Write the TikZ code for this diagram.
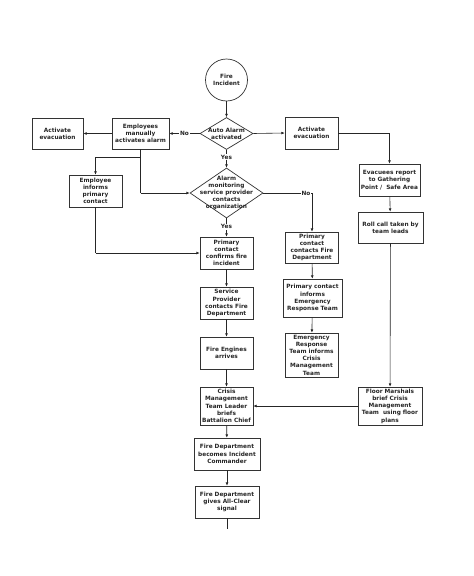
\documentclass[tikz,border=0pt]{standalone}
\usepackage{fontspec}
\setmainfont{DejaVu Sans}
\usetikzlibrary{arrows.meta,shapes.geometric}
\begin{document}
\begin{tikzpicture}[x=1pt,y=-1pt,
  txt/.style={font=\bfseries\fontsize{5.8}{7.2}\selectfont, align=center, text=black!85},
  box/.style={txt, draw=black!80, line width=0.7pt, inner sep=0.5pt, fill=white},
  dia/.style={diamond, draw=black!80, line width=0.7pt, inner sep=0pt, fill=white},
  lab/.style={txt, fill=white, inner sep=0.8pt},
  conn/.style={draw=black!85, line width=0.6pt},
  arr/.style={conn, -{Latex[length=3.2pt,width=2.8pt]}}
]
\useasboundingbox (0,0) rectangle (474,576);
\fill[white] (0,0) rectangle (474,576);

% nodes
\node[circle, draw=black!80, line width=0.7pt, minimum size=42pt, inner sep=0pt, txt] (fire) at (226.5,80) {Fire\\Incident};
\node[dia, minimum width=53pt, minimum height=32pt] (d1) at (226.5,133.5) {};
\node[txt] (d1t) at (226.5,133.5) {Auto Alarm\\activated};
\node[dia, minimum width=73pt, minimum height=50pt] (d2) at (226.5,193) {};
\node[txt] (d2t) at (226.5,193) {Alarm\\monitoring\\service provider\\contacts\\organization};

\node[box, minimum width=51pt, minimum height=31pt] (evL) at (57.5,133.5) {Activate\\evacuation};
\node[box, minimum width=57pt, minimum height=31pt] (emp) at (140.5,133.5) {Employees\\manually\\activates alarm};
\node[box, minimum width=53pt, minimum height=32pt] (evR) at (311.5,133) {Activate\\evacuation};
\node[box, minimum width=53pt, minimum height=32pt] (inf) at (95.5,191) {Employee\\informs\\primary\\contact};
\node[box, minimum width=61pt, minimum height=32pt] (evac) at (389.5,180) {Evacuees report\\to Gathering\\Point /\ \ Safe Area};
\node[box, minimum width=65pt, minimum height=31pt] (roll) at (390.5,227.5) {Roll call taken by\\team leads};
\node[box, minimum width=53pt, minimum height=32pt] (pcc) at (226.5,253) {Primary\\contact\\confirms fire\\incident};
\node[box, minimum width=53pt, minimum height=31pt] (pcf) at (312,247.5) {Primary\\contact\\contacts Fire\\Department};
\node[box, minimum width=53pt, minimum height=32pt] (spf) at (226.5,303) {Service\\Provider\\contacts Fire\\Department};
\node[box, minimum width=59pt, minimum height=38pt] (pci) at (312.5,298) {Primary contact\\informs\\Emergency\\Response Team};
\node[box, minimum width=53pt, minimum height=32pt] (fea) at (226.5,353) {Fire Engines\\arrives};
\node[box, minimum width=53pt, minimum height=44pt] (ert) at (311.5,355) {Emergency\\Response\\Team informs\\Crisis\\Management\\Team};
\node[box, minimum width=53pt, minimum height=38pt] (cmt) at (226.5,406) {Crisis\\Management\\Team Leader\\briefs\\Battalion Chief};
\node[box, minimum width=64pt, minimum height=38pt] (fm) at (390,406) {Floor Marshals\\brief Crisis\\Management\\Team\ \ using floor\\plans};
\node[box, minimum width=66pt, minimum height=32pt] (fdi) at (227,454) {Fire Department\\becomes Incident\\Commander};
\node[box, minimum width=64pt, minimum height=32pt] (fdc) at (227,502) {Fire Department\\gives All-Clear\\signal};
\coordinate (end) at (227,529);
\coordinate (j1) at (140.5,157);
\coordinate (j2) at (95.5,157);
\coordinate (j3) at (140.5,193);
\coordinate (j4) at (95.5,253);

% connectors
\draw[arr] (fire) -- (d1);
\draw[arr] (d1.west) -- (emp.east) node[lab, pos=0.5] (no1) {No};
\draw[arr] (emp.west) -- (evL.east);
\draw[arr] (d1.east) -- (evR.west);
\draw[arr] (d1.south) -- (d2.north) node[lab, pos=0.4] (yes1) {Yes};
\draw[conn] (emp.south) -- (j3);
\draw[arr] (j3) -- (d2.west);
\draw[arr] (j1) -- (j2) -- (inf.north);
\draw[conn] (inf.south) -- (j4);
\draw[arr] (j4) -- (pcc.west);
\draw[arr] (d2.south) -- (pcc.north) node[lab, pos=0.45] (yes2) {Yes};
\draw[arr] (d2.east) -| (pcf.north);
\node[lab] (no2) at (306,193) {No};
\draw[arr] (pcf) -- (pci);
\draw[arr] (pci) -- (ert);
\draw[arr] (pcc) -- (spf);
\draw[arr] (spf) -- (fea);
\draw[arr] (fea) -- (cmt);
\draw[arr] (cmt) -- (fdi);
\draw[arr] (fdi) -- (fdc);
\draw[conn] (fdc.south) -- (end);
\draw[arr] (evR.east) -| (evac.north);
\draw[arr] (evac) -- (roll);
\draw[arr] (roll) -- (fm);
\draw[arr] (fm.west) -- (cmt.east);
\end{tikzpicture}
\end{document}
